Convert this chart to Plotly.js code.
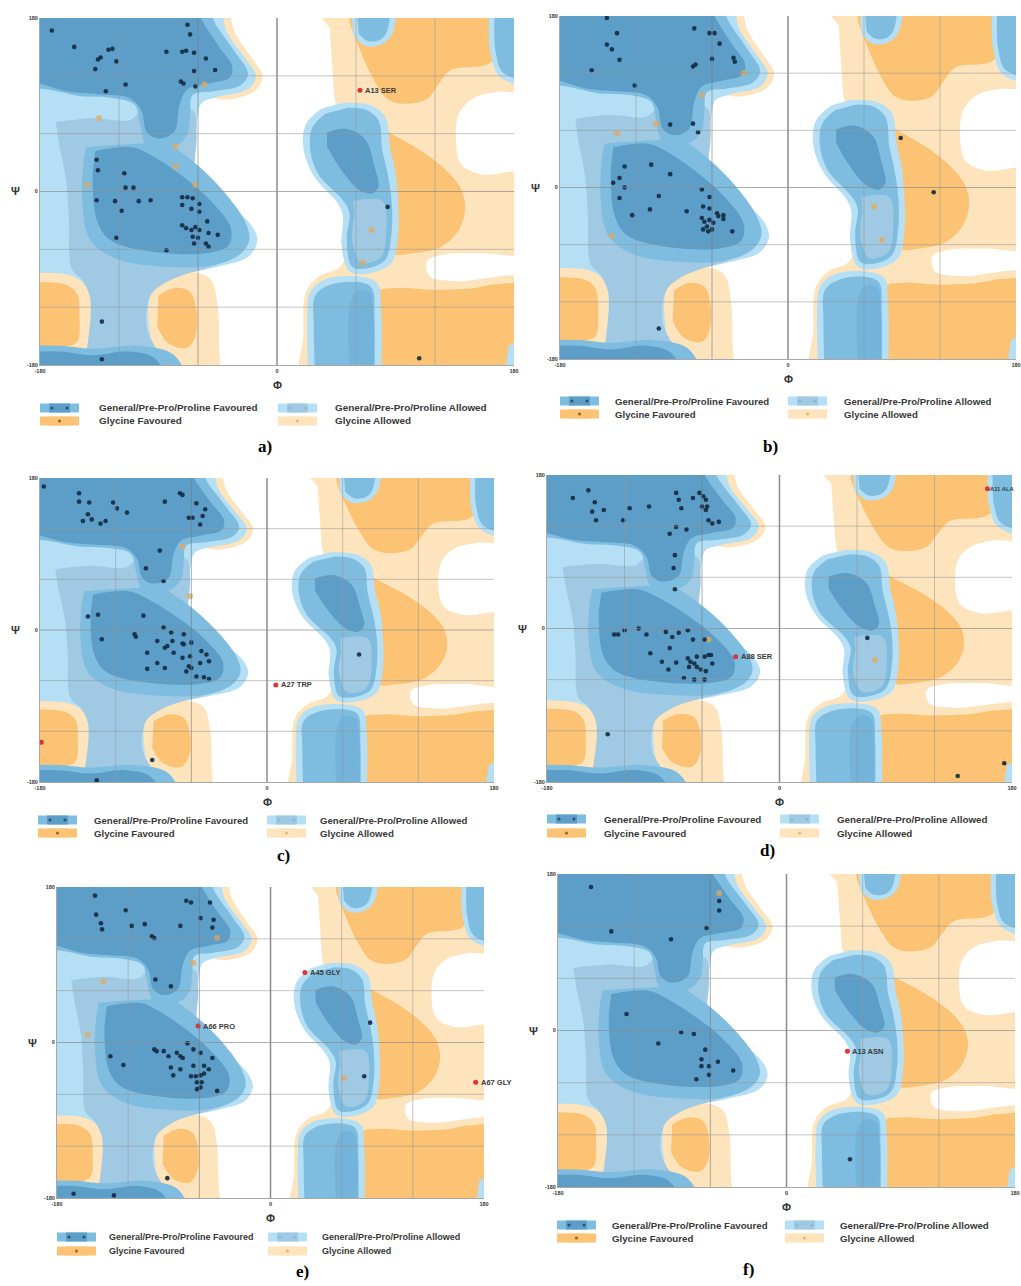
<!DOCTYPE html>
<html><head><meta charset="utf-8">
<script src="https://cdn.plot.ly/plotly-3.0.1.min.js"></script>
<style>html,body{margin:0;padding:0;background:#fff;} #chart{width:1021px;height:1286px;}</style>
</head><body><div id="chart"></div>
<script>
// ---------------- DATA ----------------
const TICK_VALUES = [-180, 0, 180];
const TICK_TEXT = ['-180', '0', '180'];
const GRID_VALUES = [-120, -60, 60, 120];
const PANEL_NAMES = ['a)', 'b)', 'c)', 'd)', 'e)', 'f)'];
const LEGEND_TEXT = ['General/Pre-Pro/Proline Favoured', 'General/Pre-Pro/Proline Allowed', 'Glycine Favoured', 'Glycine Allowed'];

// Region outlines [phi, psi]
const GLY_ALLOWED_RIGHT = [[22,200],[200,200],[200,108],[165,103],[148,96],[138,80],[136,50],[140,28],[155,18],[200,18],[200,-62],[155,-64],[128,-65],[114,-72],[116,-88],[135,-93],[200,-93],[200,-200],[20,-200],[20,-150],[22,-105],[32,-88],[48,-78],[55,-50],[58,0],[50,60],[44,95],[42,130],[40,170]];
const GLY_ALLOWED_TOPLEFT = [[-58,200],[-40,200],[-32,165],[-19,138],[-11,120],[-17,104],[-45,96],[-58,110]];
const GLY_FAV_TOP = [[55,200],[172,200],[172,150],[160,132],[132,126],[122,110],[114,96],[96,91],[84,96],[74,115],[62,150],[55,175]];
const GLY_FAV_MID = [[76,68],[92,56],[112,40],[130,20],[140,2],[143,-18],[138,-40],[125,-57],[104,-64],[88,-64],[84,-40],[86,-10],[82,20],[76,45]];
const GLY_FAV_BOTTOM = [[72,-200],[200,-200],[200,-100],[168,-96],[150,-100],[120,-102],[90,-100],[76,-104],[72,-130]];
const GEN_ALLOWED_MAIN = [[-200,200],[-48,200],[-38,165],[-24,138],[-16,120],[-22,106],[-45,98],[-57,92],[-60,80],[-60,12],[-50,5],[-34,-15],[-18,-38],[-15,-52],[-22,-68],[-45,-78],[-65,-84],[-82,-92],[-90,-110],[-92,-140],[-84,-165],[-70,-175],[-64,-200],[-200,-200]];
const GLY_ALLOWED_LEFT = [[-200,-86],[-160,-86],[-146,-96],[-140,-120],[-142,-160],[-155,-172],[-200,-172]];
const GLY_FAV_LEFT = [[-200,-96],[-162,-96],[-152,-106],[-150,-130],[-152,-156],[-165,-162],[-200,-162]];
const GLY_ALLOWED_LOWER = [[-96,-95],[-80,-86],[-62,-84],[-50,-92],[-45,-120],[-44,-160],[-45,-200],[-70,-200],[-82,-178],[-94,-160],[-98,-125]];
const GLY_FAV_LOWER = [[-90,-108],[-78,-100],[-66,-104],[-61,-125],[-62,-150],[-68,-162],[-82,-158],[-91,-140]];
const PREPRO_ALLOWED_MAIN = [[-168,72],[-140,76],[-112,74],[-102,84],[-64,84],[-61,60],[-62,12],[-54,2],[-40,-18],[-27,-40],[-24,-54],[-30,-66],[-50,-78],[-70,-86],[-84,-94],[-96,-108],[-99,-140],[-92,-162],[-84,-175],[-80,-200],[-150,-200],[-144,-160],[-142,-110],[-148,-92],[-156,-80],[-158,-30],[-160,10],[-165,45]];
const GEN_FAV_UPPER = [[-200,200],[-58,200],[-46,172],[-32,145],[-22,122],[-28,110],[-48,104],[-64,100],[-66,80],[-68,60],[-76,48],[-90,45],[-100,50],[-104,70],[-108,90],[-125,97],[-150,99],[-175,106],[-200,108]];
const GEN_FAV_LOWER = [[-145,46],[-100,50],[-84,50],[-72,40],[-56,22],[-38,-4],[-24,-32],[-21,-50],[-28,-65],[-50,-77],[-85,-78],[-122,-70],[-142,-50],[-148,-10],[-147,30]];
const GEN_FAV_BOTTOM = [[-200,-200],[-70,-200],[-78,-170],[-105,-160],[-140,-163],[-165,-160],[-200,-160]];
const GEN_CORE_UPPER = [[-200,200],[-66,200],[-56,175],[-44,150],[-34,130],[-36,118],[-52,112],[-68,106],[-74,90],[-78,62],[-90,55],[-99,62],[-103,84],[-112,97],[-135,101],[-160,104],[-180,112],[-200,118]];
const GEN_CORE_LOWER = [[-138,42],[-110,46],[-96,38],[-70,14],[-50,-10],[-35,-38],[-37,-56],[-54,-64],[-97,-62],[-127,-50],[-137,-29],[-140,19]];
const GEN_CORE_BOTTOM = [[-200,-200],[-85,-200],[-92,-174],[-112,-166],[-140,-170],[-165,-166],[-200,-167]];
const GEN_ALLOWED_LALPHA = [[50,92],[70,90],[82,78],[86,45],[90,20],[92,-10],[92,-45],[87,-74],[70,-85],[55,-83],[49,-55],[50,-25],[46,-12],[28,16],[20,45],[22,70],[34,86]];
const GEN_FAV_LALPHA = [[54,87],[67,85],[77,74],[80,43],[84,19],[87,-9],[87,-43],[82,-71],[67,-80],[57,-78],[53,-50],[55,-22],[50,-9],[31,19],[25,47],[27,67],[37,81]];
const PREPRO_LALPHA = [[58,-10],[80,-10],[83,-40],[79,-68],[64,-74],[57,-50],[59,-25]];
const GEN_CORE_LALPHA = [[38,61],[52,65],[67,54],[74,26],[77,5],[72,-2],[62,2],[47,26],[38,47]];
const GEN_ALLOWED_BR = [[24,-200],[23,-130],[25,-105],[35,-92],[60,-88],[76,-95],[79,-120],[79,-200]];
const GEN_FAV_BR = [[29,-200],[28,-140],[29,-108],[40,-97],[62,-94],[72,-100],[74,-130],[74,-200]];
const GEN_CORE_BR = [[56,-200],[55,-120],[60,-104],[70,-104],[73,-125],[73,-200]];
const GEN_ALLOWED_TR = [[56,200],[88,200],[88,165],[80,153],[67,151],[58,162]];
const GEN_FAV_TR = [[60,200],[84,200],[84,168],[79,158],[69,156],[62,164]];
const GEN_ALLOWED_RIGHT = [[161,200],[200,200],[200,112],[170,118],[162,145],[161,172]];
const GEN_FAV_RIGHT = [[165,200],[200,200],[200,118],[172,123],[166,145],[165,172]];
const GEN_ALLOWED_RIGHT_BOTTOM = [[172,-200],[200,-200],[200,-150],[176,-160]];

// Residues [phi, psi]
const A_GENERAL = [[-171,167],[-154,150],[-136,137],[-134,139],[-128,147],[-125,148],[-122,135],[-138,127],[-130,104],[-115,111],[-84,145],[-72,145],[-69,146],[-63,144],[-68,173],[-66,163],[-54,138],[-47,126],[-63,125],[-73,114],[-71,112],[-62,109],
  [-137,33],[-136,22],[-116,19],[-115,4],[-109,4],[-137,-9],[-123,-10],[-118,-20],[-105,-10],[-96,-9],[-72,-6],[-68,-6],[-64,-7],[-72,-14],[-65,-18],[-59,-13],[-59,-21],[-72,-35],[-69,-38],[-65,-40],[-62,-37],[-59,-40],[-53,-31],[-52,-43],[-64,-47],[-60,-48],[-63,-54],[-54,-54],[-52,-57],[-45,-45],[-84,-61],[-122,-48],
  [-133,-135],[-133,-174],[84,-16],[108,-173]];
const A_GLYCINE = [[-55,111],[-135,76],[-77,47],[-77,26],[-144,7],[-62,7],[72,-40],[65,-74]];
const A_OUTLIERS = [[63,105]];
const A_OUTLIER_LABELS = ['A13 SER'];

const B_GENERAL = [[-143,178],[-135,162],[-143,150],[-139,145],[-133,134],[-155,123],[-121,107],[-74,167],[-62,162],[-58,162],[-54,151],[-60,135],[-43,136],[-42,132],[-75,127],[-73,129],[-93,66],[-75,67],[-71,58],
  [-129,22],[-108,24],[-93,14],[-133,10],[-138,5],[-129,0],[-102,-9],[-133,-11],[-123,-29],[-109,-23],[-80,-25],[-68,-2],[-62,-10],[-67,-20],[-62,-22],[-56,-27],[-51,-29],[-68,-32],[-66,-36],[-62,-34],[-59,-37],[-67,-44],[-63,-46],[-60,-44],[-55,-30],[-51,-33],[-44,-46],[-64,-41],
  [-102,-148],[89,52],[115,-5]];
const B_GLYCINE = [[-135,57],[-104,67],[-68,97],[-35,120],[-139,-51],[68,-20],[74,-55]];
const B_OUTLIERS = [];
const B_OUTLIER_LABELS = [];

const C_GENERAL = [[-177,170],[-149,162],[-149,152],[-141,151],[-122,151],[-119,144],[-111,139],[-142,137],[-146,129],[-139,131],[-132,126],[-128,129],[-81,152],[-69,162],[-67,160],[-56,150],[-49,143],[-62,133],[-59,133],[-51,135],[-53,125],[-85,94],[-96,73],[-82,58],
  [-142,16],[-134,18],[-98,17],[-105,-5],[-104,-8],[-131,-11],[-82,3],[-76,-3],[-66,-5],[-87,-13],[-79,-19],[-81,-21],[-75,-13],[-67,-16],[-66,-17],[-60,-15],[-95,-27],[-87,-39],[-81,-45],[-74,-27],[-67,-33],[-61,-31],[-52,-25],[-48,-29],[-46,-37],[-53,-39],[-62,-43],[-60,-45],[-64,-49],[-56,-55],[-50,-56],[-46,-58],[-95,-46],
  [-91,-154],[-135,-178],[73,-29]];
const C_GLYCINE = [[-67,99],[-61,40]];
const C_OUTLIERS = [[-179,-133],[7,-65]];
const C_OUTLIER_LABELS = ['', 'A27 TRP'];

const D_GENERAL = [[-160,153],[-148,162],[-143,148],[-145,137],[-136,139],[-142,127],[-121,127],[-116,141],[-101,143],[-80,159],[-78,151],[-76,141],[-67,153],[-62,159],[-59,155],[-57,151],[-60,143],[-56,143],[-57,139],[-55,127],[-52,123],[-47,125],[-80,119],[-72,116],[-85,111],[-81,86],[-82,71],[-81,46],
  [-128,-7],[-125,-7],[-120,-2],[-109,0],[-103,-7],[-100,-29],[-88,-4],[-83,-10],[-78,-5],[-71,-2],[-67,-13],[-58,-13],[-85,-23],[-91,-39],[-86,-48],[-80,-40],[-71,-35],[-69,-39],[-66,-41],[-70,-45],[-64,-33],[-64,-45],[-58,-33],[-55,-31],[-52,-41],[-53,-31],[-61,-48],[-57,-50],[-74,-58],[-58,-60],[-66,-60],
  [-133,-124],[68,-11],[138,-173],[174,-158]];
const D_GLYCINE = [[-55,-13],[74,-37]];
const D_OUTLIERS = [[-34,-33],[161,164]];
const D_OUTLIER_LABELS = ['A88 SER', 'A11 ALA'];

const E_GENERAL = [[-148,170],[-122,153],[-147,148],[-143,138],[-142,131],[-117,135],[-106,137],[-100,123],[-98,121],[-76,135],[-71,164],[-67,162],[-51,162],[-59,144],[-48,142],[-49,133],[-97,73],[-84,65],
  [-135,-16],[-124,-26],[-98,-8],[-96,-10],[-90,-10],[-86,-16],[-79,-12],[-76,-16],[-74,-18],[-70,-1],[-65,-8],[-59,-12],[-49,-18],[-84,-29],[-76,-31],[-65,-27],[-56,-27],[-52,-31],[-82,-38],[-67,-39],[-63,-39],[-59,-38],[-56,-36],[-62,-46],[-58,-46],[-59,-52],[-62,-54],[-45,-56],
  [-87,-157],[-166,-175],[-132,-177],[84,23],[79,-39]];
const E_GLYCINE = [[-65,92],[-141,71],[-154,9],[-45,121],[62,-41]];
const E_OUTLIERS = [[-61,19],[29,81],[173,-46]];
const E_OUTLIER_LABELS = ['A66 PRO', 'A45 GLY', 'A67 GLY'];

const F_GENERAL = [[-154,165],[-53,149],[-53,138],[-63,118],[-138,114],[-91,105],[-126,19],[-83,-2],[-73,-4],[-101,-15],[-64,-22],[-67,-33],[-54,-36],[-67,-41],[-61,-41],[-42,-46],[-61,-51],[-71,-56],[50,-148]];
const F_GLYCINE = [[-53,158]];
const F_OUTLIERS = [[48,-24]];
const F_OUTLIER_LABELS = ['A13 ASN'];

// ---------------- STYLE / LAYOUT ----------------
const COL = {
  glyAllowed: '#fde4bd', glyFav: '#fbc373',
  genAllowed: '#b4dff4', prepro: '#a0cae3', genFav: '#7fbde0', genCore: '#5c9ec8', genCoreBR: '#74b3da'
};
const REGION_LAYERS = [
  [GLY_ALLOWED_RIGHT, COL.glyAllowed], [GLY_ALLOWED_TOPLEFT, COL.glyAllowed],
  [GLY_FAV_TOP, COL.glyFav], [GLY_FAV_MID, COL.glyFav], [GLY_FAV_BOTTOM, COL.glyFav],
  [GEN_ALLOWED_MAIN, COL.genAllowed],
  [GLY_ALLOWED_LEFT, COL.glyAllowed], [GLY_ALLOWED_LOWER, COL.glyAllowed],
  [GLY_FAV_LEFT, COL.glyFav], [GLY_FAV_LOWER, COL.glyFav],
  [PREPRO_ALLOWED_MAIN, COL.prepro],
  [GEN_FAV_UPPER, COL.genFav], [GEN_FAV_LOWER, COL.genFav], [GEN_FAV_BOTTOM, COL.genFav],
  [GEN_CORE_UPPER, COL.genCore], [GEN_CORE_LOWER, COL.genCore], [GEN_CORE_BOTTOM, COL.genCore],
  [GEN_ALLOWED_LALPHA, COL.genAllowed], [GEN_FAV_LALPHA, COL.genFav], [PREPRO_LALPHA, COL.prepro], [GEN_CORE_LALPHA, COL.genCore],
  [GEN_ALLOWED_BR, COL.genAllowed], [GEN_FAV_BR, COL.genFav], [GEN_CORE_BR, COL.genCoreBR],
  [GEN_ALLOWED_TR, COL.genAllowed], [GEN_FAV_TR, COL.genFav],
  [GEN_ALLOWED_RIGHT, COL.genAllowed], [GEN_FAV_RIGHT, COL.genFav], [GEN_ALLOWED_RIGHT_BOTTOM, COL.genAllowed]
];

const PANELS = [
  {gen: A_GENERAL, gly: A_GLYCINE, out: A_OUTLIERS, lab: A_OUTLIER_LABELS},
  {gen: B_GENERAL, gly: B_GLYCINE, out: B_OUTLIERS, lab: B_OUTLIER_LABELS},
  {gen: C_GENERAL, gly: C_GLYCINE, out: C_OUTLIERS, lab: C_OUTLIER_LABELS},
  {gen: D_GENERAL, gly: D_GLYCINE, out: D_OUTLIERS, lab: D_OUTLIER_LABELS},
  {gen: E_GENERAL, gly: E_GLYCINE, out: E_OUTLIERS, lab: E_OUTLIER_LABELS},
  {gen: F_GENERAL, gly: F_GLYCINE, out: F_OUTLIERS, lab: F_OUTLIER_LABELS}
];

// pixel geometry (left, right, top, bottom)
const W = 1021, H = 1286;
const BOXES = [[40,514,18,365],[560,1016,16,359],[40,494,478,782],[547,1012,475,782],[57,484,887,1198],[558,1015,874,1187]];
// legend: swatch1 x, text1 x, swatch2 x, text2 x, row1 y, row2 y, font size
const LEGENDS = [[40,97,278,333,408,421,9.9],[560,613,788,842,401,414,9.6],[38,92,267,318,820,833,9.6],[547,602,780,835,819,833,9.8],[57,107,268,320,1237,1251,9.0],[557,610,785,838,1225,1238,9.7]];
const LABEL_POS = [[265,447],[770,447],[283,855],[767,850],[302,1271],[748,1269]];

const px = x => x / W, py = y => 1 - y / H;

const traces = [];
const shapes = [];
const annotations = [];
const layout = {
  width: W, height: H, margin: {l:0, r:0, t:0, b:0},
  paper_bgcolor: '#fff', plot_bgcolor: '#fff', showlegend: false,
  font: {family: 'Liberation Sans, Arial, sans-serif', color: '#333'}
};

PANELS.forEach((p, i) => {
  const s = i === 0 ? '' : String(i + 1);
  const xa = 'x' + s, ya = 'y' + s;
  const [l, r, t, b] = BOXES[i];
  const axBase = {
    range: [-180, 180], tickmode: 'array', tickvals: TICK_VALUES, ticktext: TICK_TEXT,
    tickfont: {size: 5.5, color: '#333', weight: 'bold'}, ticks: '', showgrid: false, zeroline: false,
    showline: true, linecolor: '#a8a8a8', linewidth: 1, fixedrange: true
  };
  layout['xaxis' + s] = Object.assign({}, axBase, {domain: [px(l), px(r)], anchor: ya});
  layout['yaxis' + s] = Object.assign({}, axBase, {domain: [py(b), py(t)], anchor: xa});

  REGION_LAYERS.forEach(([pts, color]) => {
    traces.push({type: 'scatter', mode: 'lines', x: pts.map(q => q[0]), y: pts.map(q => q[1]),
      xaxis: xa, yaxis: ya, fill: 'toself', fillcolor: color,
      line: {width: 0, shape: 'spline', smoothing: 1, color: color}, hoverinfo: 'skip'});
  });
  traces.push({type: 'scatter', mode: 'markers', x: p.gly.map(q => q[0]), y: p.gly.map(q => q[1]),
    xaxis: xa, yaxis: ya, marker: {size: 6, color: 'rgba(226,168,92,0.75)'}, hoverinfo: 'skip'});
  traces.push({type: 'scatter', mode: 'markers', x: p.gen.map(q => q[0]), y: p.gen.map(q => q[1]),
    xaxis: xa, yaxis: ya, marker: {size: 4.6, color: 'rgba(22,44,68,0.92)'}, hoverinfo: 'skip'});
  traces.push({type: 'scatter', mode: 'markers', x: p.out.map(q => q[0]), y: p.out.map(q => q[1]),
    xaxis: xa, yaxis: ya, marker: {size: 5, color: '#d9363a'}, hoverinfo: 'skip', cliponaxis: false});

  p.out.forEach((q, k) => {
    if (!p.lab[k]) return;
    const nearEdge = q[0] > 150 && i % 2 === 1;
    annotations.push({xref: xa, yref: ya, x: q[0], y: q[1], text: p.lab[k], showarrow: false,
      xanchor: 'left', xshift: nearEdge ? 1 : 3, font: {size: nearEdge ? 5.8 : 7.5, color: '#3a3a3a', weight: 'bold'}});
  });

  // grid lines on top of regions
  GRID_VALUES.forEach(v => {
    const c = 'rgba(150,150,150,0.55)';
    shapes.push({type: 'line', layer: 'above', xref: xa, yref: ya + ' domain', x0: v, x1: v, y0: 0, y1: 1, line: {color: v === -60 ? 'rgba(120,120,120,0.6)' : c, width: 1}});
    shapes.push({type: 'line', layer: 'above', xref: xa + ' domain', yref: ya, x0: 0, x1: 1, y0: v, y1: v, line: {color: c, width: 1}});
  });
  shapes.push({type: 'line', layer: 'above', xref: xa, yref: ya + ' domain', x0: 0, x1: 0, y0: 0, y1: 1, line: {color: '#8c8c8c', width: 1.5}});
  shapes.push({type: 'line', layer: 'above', xref: xa + ' domain', yref: ya, x0: 0, x1: 1, y0: 0, y1: 0, line: {color: 'rgba(140,140,140,0.7)', width: 1}});

  // axis symbols
  annotations.push({xref: xa + ' domain', yref: ya + ' domain', x: 0.5, y: 0, yanchor: 'middle', yshift: -20,
    text: 'Φ', showarrow: false, font: {size: 11, color: '#333', weight: 'bold'}});
  annotations.push({xref: xa + ' domain', yref: ya + ' domain', x: 0, y: 0.5, xanchor: 'right', xshift: -18,
    text: 'Ψ', showarrow: false, font: {size: 11, color: '#333', weight: 'bold'}});

  // legend
  const [s1, t1, s2, t2, r1, r2, fs] = LEGENDS[i];
  const sw = [[s1, r1, '#7fbde0', '#5c9ec8', 2, '#2d5370'], [s2, r1, '#b4dff4', '#a0cae3', 2, '#8fb8cf'],
              [s1, r2, '#fbc373', '#fbc373', 1, '#9a6a30'], [s2, r2, '#fde4bd', '#fde4bd', 1, '#e8b878']];
  sw.forEach(([x, y, c1, c2, nd, dc]) => {
    shapes.push({type: 'rect', xref: 'paper', yref: 'paper', x0: px(x), x1: px(x + 39), y0: py(y + 4.5), y1: py(y - 4.5), fillcolor: c1, line: {width: 0}});
    shapes.push({type: 'rect', xref: 'paper', yref: 'paper', x0: px(x + 9), x1: px(x + 30), y0: py(y + 4.5), y1: py(y - 4.5), fillcolor: c2, line: {width: 0}});
    const dots = nd === 2 ? [x + 12, x + 27] : [x + 19.5];
    dots.forEach(dx => shapes.push({type: 'circle', xref: 'paper', yref: 'paper', x0: px(dx - 1.6), x1: px(dx + 1.6), y0: py(y + 1.6), y1: py(y - 1.6), fillcolor: dc, line: {width: 0}}));
  });
  [[t1, r1, LEGEND_TEXT[0]], [t2, r1, LEGEND_TEXT[1]], [t1, r2, LEGEND_TEXT[2]], [t2, r2, LEGEND_TEXT[3]]].forEach(([x, y, txt]) => {
    annotations.push({xref: 'paper', yref: 'paper', x: px(x), y: py(y), xanchor: 'left', yanchor: 'middle', text: txt,
      showarrow: false, font: {size: fs, color: '#383838', weight: 'bold'}});
  });

  // panel label
  annotations.push({xref: 'paper', yref: 'paper', x: px(LABEL_POS[i][0]), y: py(LABEL_POS[i][1]), xanchor: 'center', yanchor: 'middle',
    text: '<b>' + PANEL_NAMES[i] + '</b>', showarrow: false, font: {size: 17, color: '#000', family: 'Liberation Serif, Times New Roman, serif'}});
});

layout.shapes = shapes;
layout.annotations = annotations;
Plotly.newPlot('chart', traces, layout, {displayModeBar: false, staticPlot: true});
</script></body></html>
